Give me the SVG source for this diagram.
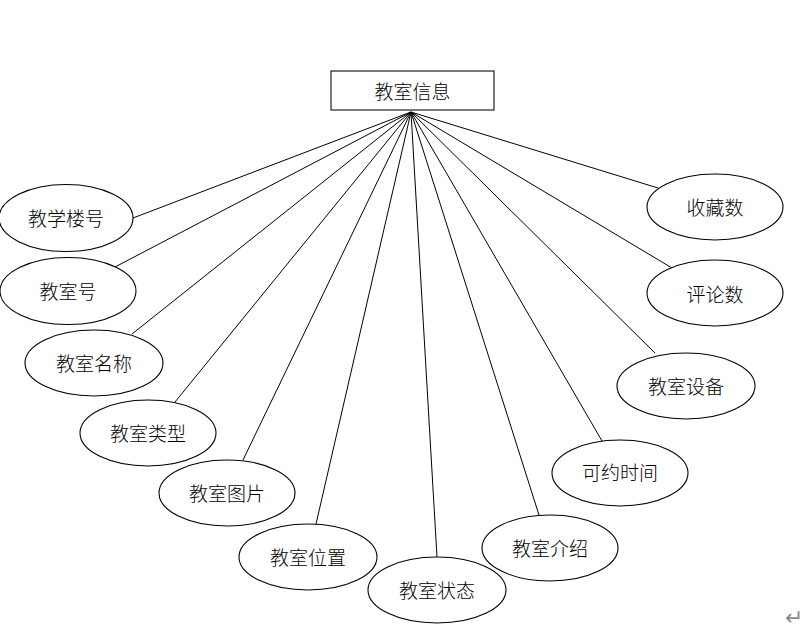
<svg xmlns="http://www.w3.org/2000/svg" width="802" height="638" viewBox="0 0 802 638">
<style>
.e{fill:#fff;stroke:#000;stroke-width:1.1}
.t{font-family:"Noto Sans CJK SC","Noto Sans",sans-serif;font-size:19px;font-weight:300;fill:#000;text-anchor:middle;dominant-baseline:central}
.c line{stroke:#000;stroke-width:1}
</style>
<rect width="802" height="638" fill="#fff"/>
<g class="c" id="connectors">
<line x1="411" y1="112" x2="133" y2="218"/>
<line x1="411" y1="112" x2="115" y2="267"/>
<line x1="411" y1="112" x2="132" y2="334"/>
<line x1="411" y1="112" x2="175" y2="402"/>
<line x1="411" y1="112" x2="243" y2="460"/>
<line x1="411" y1="112" x2="316" y2="524"/>
<line x1="411" y1="112" x2="437" y2="557"/>
<line x1="411" y1="112" x2="539" y2="515"/>
<line x1="411" y1="112" x2="602" y2="441"/>
<line x1="411" y1="112" x2="655" y2="353"/>
<line x1="411" y1="112" x2="672" y2="268"/>
<line x1="411" y1="112" x2="658" y2="188"/>
</g>
<g id="root">
<rect x="331" y="71" width="163" height="39" fill="#fff" stroke="#333" stroke-width="1.3"/>
<text class="t" x="412.5" y="90">教室信息</text>
</g>
<g id="n1"><ellipse class="e" cx="66" cy="218" rx="67" ry="33.5"/><text class="t" x="66" y="217.5">教学楼号</text></g>
<g id="n2"><ellipse class="e" cx="68" cy="291" rx="68" ry="33.5"/><text class="t" x="68" y="290.5">教室号</text></g>
<g id="n3"><ellipse class="e" cx="94" cy="363" rx="69" ry="33"/><text class="t" x="94" y="362">教室名称</text></g>
<g id="n4"><ellipse class="e" cx="148" cy="433" rx="68" ry="33"/><text class="t" x="148" y="432.5">教室类型</text></g>
<g id="n5"><ellipse class="e" cx="227" cy="493" rx="68" ry="33"/><text class="t" x="227" y="492">教室图片</text></g>
<g id="n6"><ellipse class="e" cx="308" cy="557" rx="69" ry="33"/><text class="t" x="308" y="556">教室位置</text></g>
<g id="n7"><ellipse class="e" cx="437" cy="590" rx="69" ry="33"/><text class="t" x="437" y="589">教室状态</text></g>
<g id="n8"><ellipse class="e" cx="550" cy="548" rx="68" ry="33"/><text class="t" x="550" y="547">教室介绍</text></g>
<g id="n9"><ellipse class="e" cx="620" cy="473" rx="68" ry="33"/><text class="t" x="620" y="471.5">可约时间</text></g>
<g id="n10"><ellipse class="e" cx="686" cy="386" rx="69" ry="33"/><text class="t" x="686" y="385">教室设备</text></g>
<g id="n11"><ellipse class="e" cx="715" cy="293" rx="68" ry="33"/><text class="t" x="715" y="293">评论数</text></g>
<g id="n12"><ellipse class="e" cx="715" cy="207" rx="68" ry="33"/><text class="t" x="715" y="206">收藏数</text></g>
<text x="794" y="617" font-family="DejaVu Sans,sans-serif" font-size="22" fill="#888" text-anchor="middle" dominant-baseline="central">↵</text>
</svg>
